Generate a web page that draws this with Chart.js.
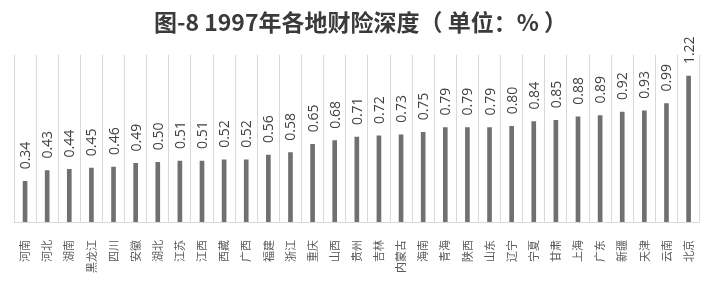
<!DOCTYPE html>
<html lang="zh">
<head>
    <meta charset="UTF-8">
    <title>1997年各地财险深度</title>
    <script src="https://cdn.jsdelivr.net/npm/chart.js"></script>
    <style>
        body { margin: 0; background: #fff; }
        #wrap { width: 720px; height: 293px; position: relative; }
    </style>
</head>
<body>
    <div id="wrap"><canvas id="depthChart"></canvas></div>

    <script>
        // 地区 和 财险深度 (%)
        const regions = ['河南', '河北', '湖南', '黑龙江', '四川', '安徽', '湖北', '江苏', '江西', '西藏',
            '广西', '福建', '浙江', '重庆', '山西', '贵州', '吉林', '内蒙古', '海南', '青海',
            '陕西', '山东', '辽宁', '宁夏', '甘肃', '上海', '广东', '新疆', '天津', '云南', '北京'];
        const depth = [0.34, 0.43, 0.44, 0.45, 0.46, 0.49, 0.50, 0.51, 0.51, 0.52,
            0.52, 0.56, 0.58, 0.65, 0.68, 0.71, 0.72, 0.73, 0.75, 0.79,
            0.79, 0.79, 0.80, 0.84, 0.85, 0.88, 0.89, 0.92, 0.93, 0.99, 1.22];

        // draw the value above each bar, rotated
        const valueLabels = {
            id: 'valueLabels',
            afterDatasetsDraw(chart) {
                const ctx = chart.ctx;
                const meta = chart.getDatasetMeta(0);
                ctx.save();
                ctx.fillStyle = '#404040';
                ctx.font = '14px "Open Sans"';
                ctx.textAlign = 'left';
                ctx.textBaseline = 'middle';
                meta.data.forEach((bar, i) => {
                    ctx.save();
                    ctx.translate(bar.x + 1, bar.y - 12);
                    ctx.rotate(-Math.PI / 2);
                    ctx.fillText(depth[i].toFixed(2), 0, 0);
                    ctx.restore();
                });
                ctx.restore();
            }
        };

        const ctx = document.getElementById('depthChart').getContext('2d');
        new Chart(ctx, {
            type: 'bar',
            data: {
                labels: regions,
                datasets: [{
                    label: '财险深度',
                    data: depth,
                    backgroundColor: '#707070',
                    barThickness: 4
                }]
            },
            options: {
                responsive: true,
                maintainAspectRatio: false,
                animation: false,
                layout: { padding: { left: 14, right: 13, top: 0, bottom: 2 } },
                scales: {
                    x: {
                        grid: { offset: true, color: '#d9d9d9', drawTicks: false },
                        border: { color: '#d9d9d9' },
                        ticks: {
                            autoSkip: false,
                            minRotation: 90,
                            maxRotation: 90,
                            padding: 18,
                            color: '#595959',
                            font: { family: '"Noto Sans CJK SC"', size: 11 }
                        }
                    },
                    y: {
                        display: false,
                        min: 0,
                        max: 1.4
                    }
                },
                plugins: {
                    legend: { display: false },
                    tooltip: { enabled: false },
                    title: {
                        display: true,
                        text: '图-8 1997年各地财险深度（ 单位：% ）',
                        color: '#3a3a3a',
                        font: { family: '"Noto Sans CJK SC"', size: 23, weight: 'bold' },
                        padding: { top: 8, bottom: 19 }
                    }
                }
            },
            plugins: [valueLabels]
        });
    </script>
</body>
</html>
